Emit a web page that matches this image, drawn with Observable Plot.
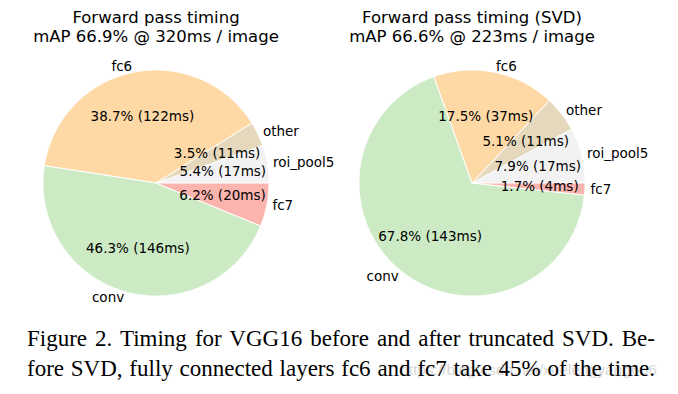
<!DOCTYPE html>
<html><head><meta charset="utf-8">
<script src="https://cdn.jsdelivr.net/npm/d3@7"></script>
<script src="https://cdn.jsdelivr.net/npm/@observablehq/plot@0.6"></script>
<style>
html,body{margin:0;padding:0;background:#fff}
body{width:678px;height:394px;overflow:hidden;position:relative}
#chart{position:absolute;left:0;top:0}
#wm{position:absolute;left:400px;top:361px;font-family:"Liberation Sans",Arial,sans-serif;font-size:15.5px;color:#d9d9d9;white-space:nowrap}
#cap{position:absolute;left:27px;top:324px;width:628px;font-family:"Liberation Serif","Times New Roman",serif;font-size:23px;line-height:30px;color:#000}
#cap div{text-align:justify;text-align-last:justify}
</style></head>
<body>
<div id="chart"></div>
<div id="wm">https://blog.csdn.net/xuelengyang666</div>
<div id="cap"><div>Figure 2. Timing for VGG16 before and after truncated SVD. Be-</div><div>fore SVD, fully connected layers fc6 and fc7 take 45% of the time.</div></div>
<script>
const labels = ["roi_pool5", "other", "fc6", "conv", "fc7"];
const colors = ["#f2f2f2", "#e5d8bd", "#fed9a6", "#ccebc5", "#fbb4ae"];
const pctBefore = [5.4, 3.5, 38.7, 46.3, 6.2];
const msBefore = [17, 11, 122, 146, 20];
const pctAfter = [7.9, 5.1, 17.5, 67.8, 1.7];
const msAfter = [17, 11, 37, 143, 4];
const titles = ["Forward pass timing\nmAP 66.9% @ 320ms / image", "Forward pass timing (SVD)\nmAP 66.6% @ 223ms / image"];

// layout (pixels)
const W = 678, H = 310, R = 113;
const centersPx = [[155.5, 182.5], [471.5, 182.5]];
const pies = [{pct: pctBefore, ms: msBefore}, {pct: pctAfter, ms: msAfter}];

const slicePts = [], pctLabels = [], nameLabels = [], titleRows = [];
pies.forEach((p, k) => {
  const cx = (centersPx[k][0] - centersPx[0][0]) / R;
  const total = d3.sum(p.pct);
  let cum = 0;
  p.pct.forEach((v, i) => {
    const a0 = cum / total * 2 * Math.PI;
    cum += v;
    const a1 = cum / total * 2 * Math.PI;
    const id = k + "-" + i;
    slicePts.push({id, name: labels[i], x: cx, y: 0});
    const n = Math.max(2, Math.ceil((a1 - a0) / (Math.PI / 360)));
    for (let j = 0; j <= n; j++) {
      const a = a0 + (a1 - a0) * j / n;
      slicePts.push({id, name: labels[i], x: cx + Math.cos(a), y: Math.sin(a)});
    }
    slicePts.push({id, name: labels[i], x: cx, y: 0});
    const am = (a0 + a1) / 2;
    pctLabels.push({x: cx + 0.6 * Math.cos(am), y: 0.6 * Math.sin(am), text: `${v.toFixed(1)}% (${p.ms[i]}ms)`});
    nameLabels.push({x: cx + 1.05 * Math.cos(am), y: 1.05 * Math.sin(am), text: labels[i], right: Math.cos(am) > 0});
  });
  titleRows.push({x: cx, text: titles[k]});
});

const x0 = -centersPx[0][0] / R, x1 = (W - centersPx[0][0]) / R;
const y1 = centersPx[0][1] / R, y0 = -(H - centersPx[0][1]) / R;

const chart = Plot.plot({
  width: W, height: H, margin: 0,
  x: {domain: [x0, x1], axis: null},
  y: {domain: [y0, y1], axis: null},
  color: {domain: labels, range: colors},
  style: {fontFamily: "DejaVu Sans, sans-serif", background: "#fff"},
  marks: [
    Plot.line(slicePts, {x: "x", y: "y", z: "id", fill: "name", stroke: "white", strokeWidth: 1, curve: "linear-closed"}),
    Plot.text(pctLabels, {x: "x", y: "y", text: "text", fontSize: 13.5, fill: "#000"}),
    Plot.text(nameLabels.filter(d => d.right), {x: "x", y: "y", text: "text", fontSize: 13.5, textAnchor: "start", fill: "#000"}),
    Plot.text(nameLabels.filter(d => !d.right), {x: "x", y: "y", text: "text", fontSize: 13.5, textAnchor: "end", fill: "#000"}),
    Plot.text(titleRows, {x: "x", frameAnchor: "top", text: "text", fontSize: 16.5, lineAnchor: "top", lineHeight: 1.15, dy: 9, fill: "#000"})
  ]
});
document.getElementById("chart").appendChild(chart);
</script>
</body></html>
